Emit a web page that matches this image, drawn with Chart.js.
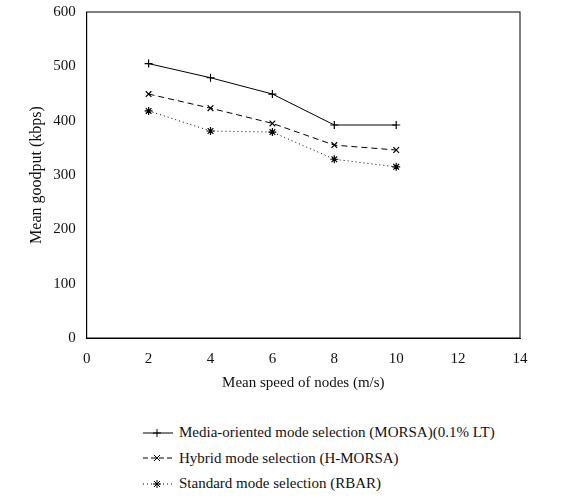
<!DOCTYPE html>
<html>
<head>
<meta charset="utf-8">
<script src="https://cdn.jsdelivr.net/npm/chart.js@4"></script>
<style>
body{margin:0;background:#fff;font-family:"Liberation Serif",serif;}
#wrap{position:absolute;left:0;top:0;width:575px;height:396px;}
#legend{position:absolute;left:143px;top:420px;font-size:15px;color:#111;}
.item{height:25.5px;display:flex;align-items:center;}
.item svg{margin-right:6px;}
</style>
</head>
<body>
<div id="wrap"><canvas id="myChart"></canvas></div>
<div id="legend"></div>
<script>
const speeds = [2, 4, 6, 8, 10];
const morsa = [505, 479, 449, 392, 392];
const hmorsa = [449, 423, 395, 355, 346];
const rbar = [418, 381, 379, 329, 315];
const names = ['Media-oriented mode selection (MORSA)(0.1% LT)', 'Hybrid mode selection (H-MORSA)', 'Standard mode selection (RBAR)'];
const xticks = [0, 2, 4, 6, 8, 10, 12, 14];

function pts(vals){ return speeds.map((s,i)=>({x:s,y:vals[i]})); }
const styles = [
  {data:morsa, dash:[], pt:'cross'},
  {data:hmorsa, dash:[6,4], pt:'crossRot'},
  {data:rbar, dash:[1,3], pt:'star'}
];
const f = {family:'Liberation Serif', size:15};

new Chart(document.getElementById('myChart'), {
  type:'line',
  data:{datasets: styles.map((s,i)=>({
    label:names[i], data:pts(s.data), borderColor:'#000', borderWidth:1,
    borderDash:s.dash, pointStyle:s.pt, pointRadius:4, pointBorderColor:'#000',
    pointBorderWidth:1.2, fill:false, tension:0
  }))},
  options:{
    responsive:true, maintainAspectRatio:false, animation:false,
    layout:{padding:{left:23,right:55,top:10}},
    plugins:{legend:{display:false}, tooltip:{enabled:false}},
    scales:{
      x:{type:'linear', min:0, max:14, afterBuildTicks:a=>{a.ticks=xticks.map(v=>({value:v}));},
        grid:{display:false}, border:{color:'#000'},
        ticks:{color:'#111', font:f, padding:4},
        title:{display:true, text:'Mean speed of nodes (m/s)', color:'#111', font:f, padding:{top:2}}},
      y:{min:0, max:600, ticks:{stepSize:100, color:'#111', font:f},
        grid:{display:false}, border:{color:'#000'},
        title:{display:true, text:'Mean goodput (kbps)', color:'#111', font:{family:'Liberation Serif', size:16}}}
    }
  },
  plugins:[{id:'box', afterDraw(c){
    const a=c.chartArea, g=c.ctx; g.save(); g.strokeStyle='#000'; g.lineWidth=1;
    g.strokeRect(a.left, a.top, a.right-a.left, a.bottom-a.top); g.restore();
  }}]
});

const marks = ['<path d="M14 4v8M10 8h8" />', '<path d="M11 5l6 6M17 5l-6 6" />',
  '<path d="M14 4v8M10 8h8M11 5l6 6M17 5l-6 6" />'];
const dashes = ['', '5,3', '1,3'];
document.getElementById('legend').innerHTML = names.map((n,i)=>
  '<div class="item"><svg width="30" height="16" stroke="#000" stroke-width="1" fill="none">' +
  '<line x1="0" y1="8" x2="30" y2="8" stroke-dasharray="'+dashes[i]+'"/>' + marks[i] +
  '</svg>' + n + '</div>').join('');
</script>
</body>
</html>
